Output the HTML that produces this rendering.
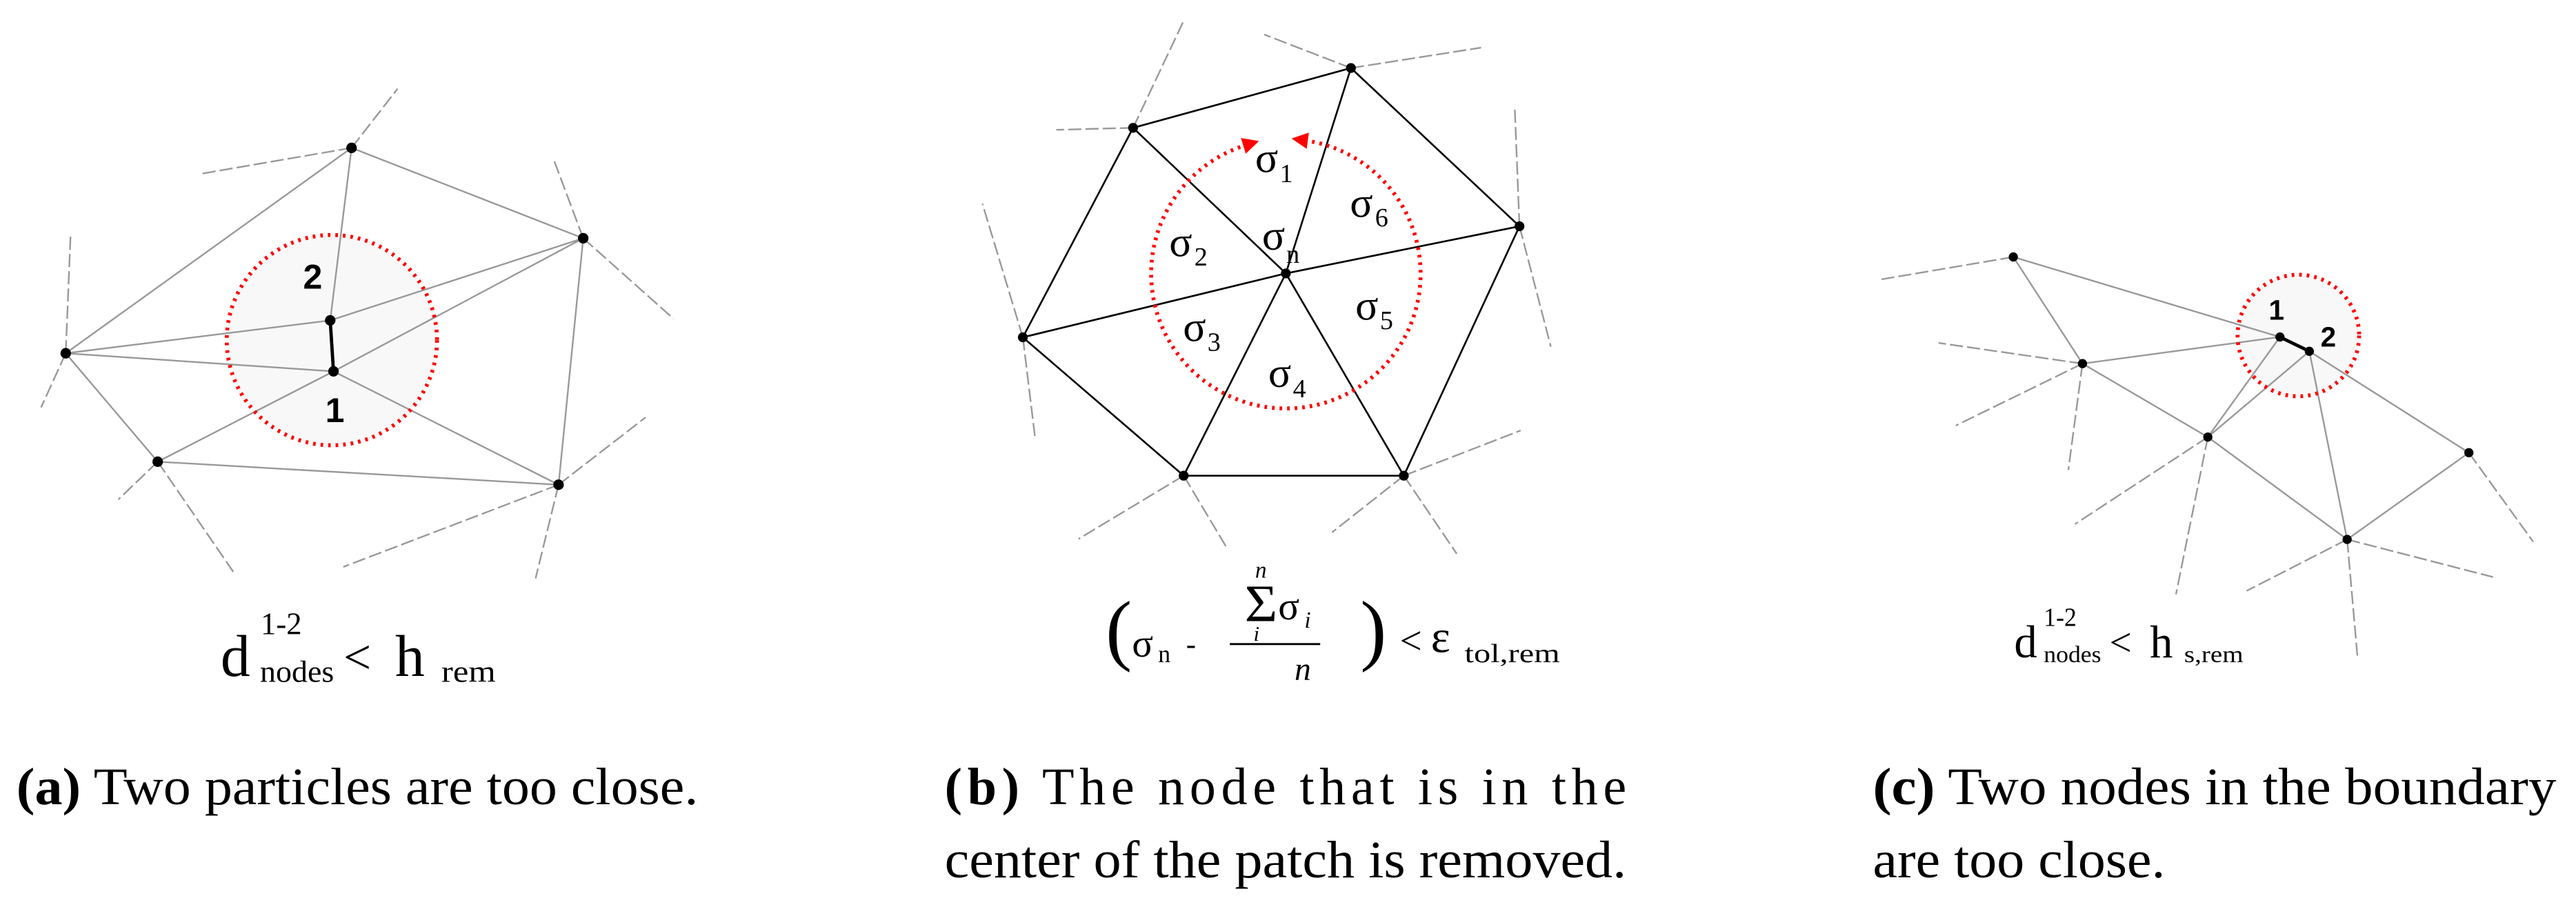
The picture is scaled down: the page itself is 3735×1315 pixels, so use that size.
<!DOCTYPE html>
<html><head><meta charset="utf-8"><style>
html,body{margin:0;padding:0;background:#fff;}
svg{display:block;}
text{font-family:"Liberation Serif",serif;fill:#000;}
.g{stroke:#999;stroke-width:1;fill:none;}
.d{stroke:#999;stroke-width:1;fill:none;stroke-dasharray:8 2.5;}
.k{stroke:#000;stroke-width:1.1;fill:none;}
.r{stroke:#f00;stroke-width:2.4;fill:none;stroke-dasharray:1.6 3;}
.lb{font-family:"Liberation Sans",sans-serif;font-weight:bold;}
</style></head><body>
<svg width="3735" height="1315" viewBox="0 0 1568 552" preserveAspectRatio="none" xmlns="http://www.w3.org/2000/svg">
<defs>
<marker id="ar" viewBox="0 0 10 10" refX="2" refY="5" markerWidth="10" markerHeight="10" markerUnits="userSpaceOnUse" orient="auto-start-reverse">
<path d="M0,0 L10,5 L0,10 z" fill="#f00"/></marker>
</defs>

<!-- Panel a -->
<circle cx="202" cy="207" r="64" fill="#f8f8f8"/>
<g class="d">
<line x1="214" y1="90" x2="242" y2="54"/><line x1="214" y1="90" x2="121" y2="106"/>
<line x1="355" y1="145" x2="337" y2="97"/><line x1="355" y1="145" x2="410" y2="194"/>
<line x1="40" y1="215" x2="43" y2="142"/><line x1="40" y1="215" x2="25" y2="248"/>
<line x1="96" y1="281" x2="72" y2="304"/><line x1="96" y1="281" x2="142" y2="348"/>
<line x1="340" y1="295" x2="393" y2="254"/><line x1="340" y1="295" x2="209" y2="345"/><line x1="340" y1="295" x2="326" y2="352"/>
</g>
<g class="g">
<line x1="214" y1="90" x2="355" y2="145"/><line x1="214" y1="90" x2="40" y2="215"/><line x1="214" y1="90" x2="201" y2="195"/>
<line x1="40" y1="215" x2="201" y2="195"/><line x1="40" y1="215" x2="203" y2="226"/><line x1="40" y1="215" x2="96" y2="281"/>
<line x1="96" y1="281" x2="203" y2="226"/><line x1="96" y1="281" x2="340" y2="295"/><line x1="203" y1="226" x2="340" y2="295"/>
<line x1="355" y1="145" x2="201" y2="195"/><line x1="355" y1="145" x2="203" y2="226"/><line x1="355" y1="145" x2="340" y2="295"/>
</g>
<line x1="201" y1="195" x2="203" y2="226" stroke="#000" stroke-width="2"/>
<circle cx="202" cy="207" r="64" class="r"/>
<g fill="#000">
<circle cx="214" cy="90" r="3.2"/><circle cx="355" cy="145" r="3.2"/><circle cx="40" cy="215" r="3.2"/>
<circle cx="201" cy="195" r="3.2"/><circle cx="203" cy="226" r="3.2"/><circle cx="96" cy="281" r="3.2"/><circle cx="340" cy="295" r="3.2"/>
</g>
<text class="lb" x="184.5" y="175.6" font-size="21">2</text>
<text class="lb" x="198" y="257" font-size="21">1</text>

<text x="134.3" y="411.4" font-size="36">d</text>
<text x="158.7" y="386" font-size="19" textLength="25" lengthAdjust="spacingAndGlyphs">1-2</text>
<text x="158.3" y="415" font-size="18.5" textLength="45" lengthAdjust="spacingAndGlyphs">nodes</text>
<text x="209" y="410" font-size="30">&lt;</text>
<text x="240.5" y="411.4" font-size="36">h</text>
<text x="268.7" y="415" font-size="18.5" textLength="33" lengthAdjust="spacingAndGlyphs">rem</text>

<!-- Panel b -->
<g class="d">
<line x1="689.7" y1="77.8" x2="720" y2="13.7"/><line x1="689.7" y1="77.8" x2="643" y2="79"/>
<line x1="822.3" y1="41.4" x2="769.5" y2="21"/><line x1="822.3" y1="41.4" x2="901.5" y2="29"/>
<line x1="924.9" y1="137.7" x2="922" y2="65"/><line x1="924.9" y1="137.7" x2="944" y2="211"/>
<line x1="622.6" y1="205.3" x2="598" y2="124"/><line x1="622.6" y1="205.3" x2="630" y2="266"/>
<line x1="720.5" y1="289.5" x2="656.5" y2="328"/><line x1="720.5" y1="289.5" x2="746.5" y2="333"/>
<line x1="854.5" y1="289.5" x2="925.6" y2="262"/><line x1="854.5" y1="289.5" x2="810.8" y2="324"/><line x1="854.5" y1="289.5" x2="886.7" y2="337"/>
</g>
<g class="k">
<polygon points="689.7,77.8 822.3,41.4 924.9,137.7 854.5,289.5 720.5,289.5 622.6,205.3"/>
<line x1="689.7" y1="77.8" x2="782.7" y2="166.4"/><line x1="822.3" y1="41.4" x2="782.7" y2="166.4"/>
<line x1="924.9" y1="137.7" x2="782.7" y2="166.4"/><line x1="622.6" y1="205.3" x2="782.7" y2="166.4"/>
<line x1="720.5" y1="289.5" x2="782.7" y2="166.4"/><line x1="854.5" y1="289.5" x2="782.7" y2="166.4"/>
</g>
<path d="M794.1,85.4 A82,82 0 1 1 758.7,88.2" class="r" marker-start="url(#ar)" marker-end="url(#ar)"/>
<g fill="#000">
<circle cx="689.7" cy="77.8" r="3"/><circle cx="822.3" cy="41.4" r="3"/><circle cx="924.9" cy="137.7" r="3"/>
<circle cx="854.5" cy="289.5" r="3"/><circle cx="720.5" cy="289.5" r="3"/><circle cx="622.6" cy="205.3" r="3"/><circle cx="782.7" cy="166.4" r="3"/>
</g>
<g font-size="26">
<text x="764" y="104.7">σ</text><text x="779" y="110.8" font-size="16">1</text>
<text x="821.7" y="132">σ</text><text x="837" y="137.7" font-size="16">6</text>
<text x="711.7" y="156">σ</text><text x="727" y="161.6" font-size="16">2</text>
<text x="768.2" y="152">σ</text><text x="783" y="160" font-size="16">n</text>
<text x="720.1" y="207.6">σ</text><text x="735" y="213.5" font-size="16">3</text>
<text x="825" y="194.6">σ</text><text x="840" y="200.3" font-size="16">5</text>
<text x="772" y="235.6">σ</text><text x="787" y="241.7" font-size="16">4</text>
</g>

<text x="673" y="399" font-size="48">(</text>
<text x="689" y="399.7" font-size="24">σ</text>
<text x="705" y="403" font-size="15">n</text>
<text x="722" y="398" font-size="18">-</text>
<text x="757.6" y="378" font-size="32" textLength="20" lengthAdjust="spacingAndGlyphs">Σ</text>
<text x="764" y="351.5" font-size="14" font-style="italic">n</text>
<text x="778" y="377" font-size="24">σ</text>
<text x="794" y="382" font-size="14" font-style="italic">i</text>
<text x="763" y="390" font-size="13" font-style="italic">i</text>
<line x1="748.6" y1="392" x2="803.6" y2="392" stroke="#000" stroke-width="1.2"/>
<text x="788" y="414" font-size="20" font-style="italic">n</text>
<text x="828" y="399" font-size="48">)</text>
<text x="852" y="398" font-size="24">&lt;</text>
<text x="871" y="397" font-size="28">ε</text>
<text x="891.5" y="403" font-size="16" textLength="58" lengthAdjust="spacingAndGlyphs">tol,rem</text>

<!-- Panel c -->
<circle cx="1399" cy="204.2" r="37" fill="#f8f8f8"/>
<g class="d">
<line x1="1225.5" y1="156.4" x2="1145.3" y2="170"/>
<line x1="1267.6" y1="221.3" x2="1180" y2="208.7"/><line x1="1267.6" y1="221.3" x2="1190.5" y2="259"/><line x1="1267.6" y1="221.3" x2="1259" y2="286"/>
<line x1="1343.9" y1="266" x2="1263" y2="319"/><line x1="1343.9" y1="266" x2="1324.5" y2="361.7"/>
<line x1="1428.7" y1="328.3" x2="1367.5" y2="359.6"/><line x1="1428.7" y1="328.3" x2="1517.5" y2="351.2"/><line x1="1428.7" y1="328.3" x2="1435" y2="400"/>
<line x1="1502.8" y1="275.5" x2="1542" y2="329.8"/>
</g>
<g class="g">
<line x1="1225.5" y1="156.4" x2="1387.8" y2="205.1"/><line x1="1225.5" y1="156.4" x2="1267.6" y2="221.3"/>
<line x1="1267.6" y1="221.3" x2="1387.8" y2="205.1"/><line x1="1267.6" y1="221.3" x2="1343.9" y2="266"/>
<line x1="1387.8" y1="205.1" x2="1343.9" y2="266"/><line x1="1405.7" y1="213.8" x2="1343.9" y2="266"/>
<line x1="1405.7" y1="213.8" x2="1428.7" y2="328.3"/><line x1="1405.7" y1="213.8" x2="1502.8" y2="275.5"/>
<line x1="1343.9" y1="266" x2="1428.7" y2="328.3"/><line x1="1428.7" y1="328.3" x2="1502.8" y2="275.5"/>
</g>
<line x1="1387.8" y1="205.1" x2="1405.7" y2="213.8" stroke="#000" stroke-width="2"/>
<circle cx="1399" cy="204.2" r="37" class="r"/>
<g fill="#000">
<circle cx="1225.5" cy="156.4" r="2.8"/><circle cx="1267.6" cy="221.3" r="2.8"/><circle cx="1387.8" cy="205.1" r="2.8"/>
<circle cx="1405.7" cy="213.8" r="2.8"/><circle cx="1343.9" cy="266" r="2.8"/><circle cx="1502.8" cy="275.5" r="2.8"/><circle cx="1428.7" cy="328.3" r="2.8"/>
</g>
<text class="lb" x="1381" y="194.6" font-size="17">1</text>
<text class="lb" x="1412.5" y="211" font-size="17">2</text>

<text x="1226" y="400" font-size="28">d</text>
<text x="1244" y="381" font-size="16" textLength="20" lengthAdjust="spacingAndGlyphs">1-2</text>
<text x="1244" y="403" font-size="14" textLength="35" lengthAdjust="spacingAndGlyphs">nodes</text>
<text x="1284" y="399" font-size="24">&lt;</text>
<text x="1308.6" y="400" font-size="28">h</text>
<text x="1329.5" y="403" font-size="14" textLength="36" lengthAdjust="spacingAndGlyphs">s,rem</text>

<!-- Captions -->
<g font-size="32">
<text x="10" y="489.5" textLength="415" lengthAdjust="spacingAndGlyphs"><tspan font-weight="bold">(a)</tspan> Two particles are too close.</text>
<text x="575" y="489.5" textLength="415" lengthAdjust="spacing"><tspan font-weight="bold">(b)</tspan> The node that is in the</text>
<text x="575" y="534" textLength="415" lengthAdjust="spacingAndGlyphs">center of the patch is removed.</text>
<text x="1140" y="489.5" textLength="416" lengthAdjust="spacingAndGlyphs"><tspan font-weight="bold">(c)</tspan> Two nodes in the boundary</text>
<text x="1140" y="534" textLength="178" lengthAdjust="spacingAndGlyphs">are too close.</text>
</g>
</svg>
</body></html>
